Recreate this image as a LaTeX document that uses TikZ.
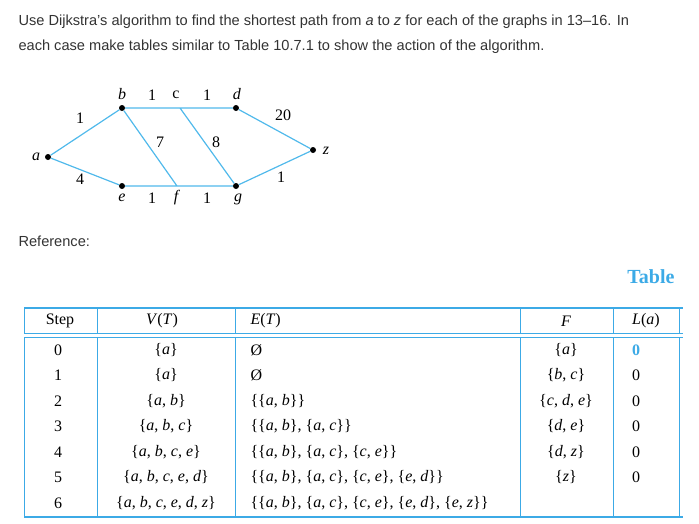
\documentclass[tikz,border=0pt]{standalone}
\usepackage{fontspec}
\setmainfont{Liberation Serif}
\newfontfamily\sans{Liberation Sans}
\definecolor{eb}{RGB}{80,185,235}
\definecolor{tb}{RGB}{60,170,230}
\begin{document}
\begin{tikzpicture}[x=1pt,y=-1pt,
 vtx/.style={circle,fill=black,inner sep=0pt,minimum size=6pt},
 edge/.style={eb,line width=1.2pt},
 lbl/.style={font=\fontsize{16}{17}\selectfont},
 rule/.style={tb,line width=1pt},
 cell/.style={font=\fontsize{16}{17}\selectfont}]
\useasboundingbox (0,0) rectangle (699,523);
\node[anchor=west,font=\sans\fontsize{14.6}{16}\selectfont,text=black!80] (t1) at (15,22) {Use Dijkstra’s algorithm to find the shortest path from \textit{a} to \textit{z} for each of the graphs in 13–16. In};
\node[anchor=west,font=\sans\fontsize{14.6}{16}\selectfont,text=black!80] (t2) at (15,47) {each case make tables similar to Table 10.7.1 to show the action of the algorithm.};
% graph
\node[vtx] (a) at (48,157) {};
\node[vtx] (b) at (122,108) {};
\coordinate (c) at (180,108);
\node[vtx] (d) at (236,108) {};
\node[vtx] (z) at (313,150) {};
\node[vtx] (e) at (122,186) {};
\coordinate (f) at (177,186);
\node[vtx] (g) at (236,186) {};
\draw[edge] (a)--(b) (a)--(e) (b)--(d) (e)--(g) (d)--(z) (g)--(z) (b)--(f) (c)--(g);
\node[lbl] (la) at (36,157) {\textit{a}};
\node[lbl] (lb) at (122,94) {\textit{b}};
\node[lbl] (lc) at (176,95) {c};
\node[lbl] (ld) at (237,94) {\textit{d}};
\node[lbl] (lz) at (326,151) {\textit{z}};
\node[lbl] (le) at (122,198) {\textit{e}};
\node[lbl] (lf) at (177,198) {\textit{f}};
\node[lbl] (lg) at (238,199) {\textit{g}};
\node[lbl] at (80,118) {1};
\node[lbl] at (80,179) {4};
\node[lbl] at (152,95) {1};
\node[lbl] at (207,95) {1};
\node[lbl] at (152,198) {1};
\node[lbl] at (207,198) {1};
\node[lbl] at (160,142) {7};
\node[lbl] at (216,142) {8};
\node[lbl] at (283,115) {20};
\node[lbl] at (281,177) {1};
\node[anchor=west,font=\sans\fontsize{14.6}{16}\selectfont,text=black!80] (ref) at (15,241) {Reference:};
\node[anchor=east,font=\bfseries\fontsize{20}{22}\selectfont,text=tb] (tab) at (678,277) {Table};
% table
\draw[rule,line width=2.5pt] (24,308)--(683,308);
\draw[rule] (24,333)--(683,333) (24,337)--(683,337);
\draw[rule,line width=1.5pt] (24,517)--(683,517);
\foreach \x in {24,97,235,520,613,679} \draw[rule] (\x,309)--(\x,333) (\x,337)--(\x,516);
\node[cell] at (60,321) {Step};
\node[cell] at (162,321) {\textit{V}(\textit{T})};
\node[cell,anchor=west] at (247,321) {\textit{E}(\textit{T})};
\node[cell] at (566,321) {\textit{F}};
\node[cell] at (646,321) {\textit{L}(\textit{a})};
\foreach \r/\y/\v/\e/\f/\l in {
 0/350/{\{\textit{a}\}}/{Ø}/{\{\textit{a}\}}/{\textcolor{tb}{\textbf{0}}},
 1/375/{\{\textit{a}\}}/{Ø}/{\{\textit{b}, \textit{c}\}}/0,
 2/401/{\{\textit{a}, \textit{b}\}}/{\{\{\textit{a}, \textit{b}\}\}}/{\{\textit{c}, \textit{d}, \textit{e}\}}/0,
 3/426/{\{\textit{a}, \textit{b}, \textit{c}\}}/{\{\{\textit{a}, \textit{b}\}, \{\textit{a}, \textit{c}\}\}}/{\{\textit{d}, \textit{e}\}}/0,
 4/452/{\{\textit{a}, \textit{b}, \textit{c}, \textit{e}\}}/{\{\{\textit{a}, \textit{b}\}, \{\textit{a}, \textit{c}\}, \{\textit{c}, \textit{e}\}\}}/{\{\textit{d}, \textit{z}\}}/0,
 5/477/{\{\textit{a}, \textit{b}, \textit{c}, \textit{e}, \textit{d}\}}/{\{\{\textit{a}, \textit{b}\}, \{\textit{a}, \textit{c}\}, \{\textit{c}, \textit{e}\}, \{\textit{e}, \textit{d}\}\}}/{\{\textit{z}\}}/0,
 6/503/{\{\textit{a}, \textit{b}, \textit{c}, \textit{e}, \textit{d}, \textit{z}\}}/{\{\{\textit{a}, \textit{b}\}, \{\textit{a}, \textit{c}\}, \{\textit{c}, \textit{e}\}, \{\textit{e}, \textit{d}\}, \{\textit{e}, \textit{z}\}\}}/{}/{}}{
 \node[cell] at (58,\y) {\r};
 \node[cell] at (166,\y) {\v};
 \node[cell,anchor=west] at (247,\y) {\e};
 \node[cell] at (566,\y) {\f};
 \node[cell] at (636,\y) {\l};
}
\end{tikzpicture}
\end{document}
